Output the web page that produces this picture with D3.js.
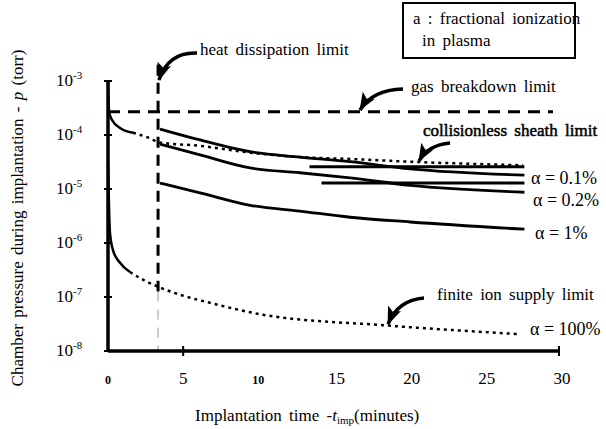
<!DOCTYPE html>
<html>
<head>
<meta charset="utf-8">
<script src="https://cdn.jsdelivr.net/npm/d3@7"></script>
<style>
  body { margin: 0; background: #fff; }
</style>
</head>
<body>
<svg id="chart" width="606" height="429"></svg>
<script>
// implantation time (minutes) and chamber pressure (torr)
var sheathTime = [0, 0.07, 0.27, 0.8, 1.66, 2.79, 3.4, 6.1, 9.5, 12.8, 16.1, 20.1, 27.6];
var sheathP    = [1.0e-3, 2.7e-4, 1.9e-4, 1.35e-4, 1.1e-4, 8.7e-5, 7.3e-5, 6.3e-5, 4.7e-5, 3.9e-5, 3.6e-5, 3.2e-5, 2.75e-5];

var alphaTime = [3.46, 6.12, 9.45, 12.77, 16.1, 20.1, 27.7];
var alpha01P  = [1.29e-4, 8.1e-5, 4.9e-5, 3.9e-5, 3.2e-5, 2.35e-5, 1.8e-5];
var alpha02P  = [6.8e-5, 4.3e-5, 2.45e-5, 2.0e-5, 1.6e-5, 1.17e-5, 8.7e-6];
var alpha1P   = [1.29e-5, 8.5e-6, 5.0e-6, 3.9e-6, 3.0e-6, 2.45e-6, 1.8e-6];

var ionTime = [0, 0.13, 0.33, 0.8, 1.46, 2.46, 3.33, 4.79, 6.79, 10.3, 18.3, 27.4];
var ionP    = [3.2e-5, 1.55e-6, 7.4e-7, 4.3e-7, 2.9e-7, 2.0e-7, 1.55e-7, 1.1e-7, 7.8e-8, 4.7e-8, 3.0e-8, 2.05e-8];

// short flat segments near the alpha = 0.1% / 0.2% curves
var flatTime = [[13.4, 27.7], [14.2, 27.7]];
var flatP    = [2.57e-5, 1.29e-5];

var gasBreakdownP = 2.7e-4;
var gasTime = [0, 29.6];
var heatTime = 3.33;
var heatP = [2.0e-3, 1.26e-7, 1.0e-8];

var xTicks = [0, 5, 10, 15, 20, 25, 30];
var yTicks = [1e-3, 1e-4, 1e-5, 1e-6, 1e-7, 1e-8];

var serif = '"Liberation Serif", "Times New Roman", serif';
var svg = d3.select('#chart');
var margin = {left: 108, top: 81, right: 47, bottom: 78};
var width = 606 - margin.left - margin.right,
    height = 429 - margin.top - margin.bottom;

var x = d3.scaleLinear().domain([0, 30]).range([margin.left, margin.left + width]);
var y = d3.scaleLog().domain([1e-8, 1e-3]).range([margin.top + height, margin.top]);

function pts(ts, ps) {
    return ts.map(function(t, i) { return [t, ps[i]]; });
}
// text helper so every label gets the serif face
function label(px, py, size) {
    return svg.append('text')
        .attr('x', px).attr('y', py)
        .style('font-family', serif)
        .style('font-size', size + 'px');
}
var line = d3.line()
    .x(function(d) { return x(d[0]); })
    .y(function(d) { return y(d[1]); })
    .curve(d3.curveMonotoneX);
var straight = d3.line()
    .x(function(d) { return x(d[0]); })
    .y(function(d) { return y(d[1]); });

// arrow head marker
svg.append('defs').append('marker')
    .attr('id', 'head')
    .attr('markerUnits', 'userSpaceOnUse')
    .attr('markerWidth', 20).attr('markerHeight', 16)
    .attr('refX', 17).attr('refY', 7)
    .attr('orient', 'auto')
  .append('path')
    .attr('d', 'M0,0 L18,7 L0,14 L4,7 Z')
    .attr('fill', '#000');

// gas breakdown limit
svg.append('path')
    .attr('d', straight([[gasTime[0], gasBreakdownP], [gasTime[1], gasBreakdownP]]))
    .attr('fill', 'none').attr('stroke', '#000')
    .attr('stroke-width', 3).attr('stroke-dasharray', '12,8');

// heat dissipation limit
svg.append('path')
    .attr('d', straight([[heatTime, heatP[0]], [heatTime, heatP[1]]]))
    .attr('fill', 'none').attr('stroke', '#000')
    .attr('stroke-width', 3).attr('stroke-dasharray', '11,7');
svg.append('path')
    .attr('d', straight([[heatTime, heatP[1]], [heatTime, heatP[2]]]))
    .attr('fill', 'none').attr('stroke', '#999')
    .attr('stroke-width', 1).attr('stroke-dasharray', '10,8');

// collisionless sheath limit (solid at first, dotted after)
var sheath = pts(sheathTime, sheathP);
svg.append('path')
    .attr('d', line(sheath.filter(function(d) { return d[0] <= 1.7; })))
    .attr('fill', 'none').attr('stroke', '#000').attr('stroke-width', 2.5);
svg.append('path')
    .attr('d', line(sheath.filter(function(d) { return d[0] >= 1.66; })))
    .attr('fill', 'none').attr('stroke', '#000')
    .attr('stroke-width', 2.5).attr('stroke-dasharray', '3,4');

// alpha curves
[alpha01P, alpha02P, alpha1P].forEach(function(ps) {
    svg.append('path')
        .attr('d', line(pts(alphaTime, ps)))
        .attr('fill', 'none').attr('stroke', '#000').attr('stroke-width', 2.8);
});
flatP.forEach(function(p, i) {
    svg.append('path')
        .attr('d', straight([[flatTime[i][0], p], [flatTime[i][1], p]]))
        .attr('fill', 'none').attr('stroke', '#000').attr('stroke-width', 3);
});

// finite ion supply limit (alpha = 100%)
var ion = pts(ionTime, ionP);
svg.append('path')
    .attr('d', line(ion.filter(function(d) { return d[0] <= 1.5; })))
    .attr('fill', 'none').attr('stroke', '#000').attr('stroke-width', 2.5);
svg.append('path')
    .attr('d', line(ion.filter(function(d) { return d[0] >= 1.46; })))
    .attr('fill', 'none').attr('stroke', '#000')
    .attr('stroke-width', 2.5).attr('stroke-dasharray', '3,4');

// axes
var axes = svg.append('g').attr('stroke', '#000');
axes.append('line')
    .attr('x1', x(0)).attr('x2', x(0))
    .attr('y1', y(1e-3)).attr('y2', y(1e-8))
    .attr('stroke-width', 3.5);
axes.append('line')
    .attr('x1', x(0)).attr('x2', x(30))
    .attr('y1', y(1e-8)).attr('y2', y(1e-8))
    .attr('stroke-width', 3.5);
yTicks.forEach(function(v) {
    axes.append('line')
        .attr('x1', x(0) - 4).attr('x2', x(0) + 4)
        .attr('y1', y(v)).attr('y2', y(v))
        .attr('stroke-width', 2);
});
[5, 30].forEach(function(v) {
    axes.append('line')
        .attr('x1', x(v)).attr('x2', x(v))
        .attr('y1', y(1e-8) - 5).attr('y2', y(1e-8) + 5)
        .attr('stroke-width', 2);
});

// y tick labels 10^n
yTicks.forEach(function(v) {
    var t = label(56, y(v) + 5, 17);
    t.append('tspan').text('10');
    t.append('tspan').attr('dy', -7).style('font-size', '11px')
        .text(String(Math.round(Math.log10(v))));
});

// x tick labels
xTicks.forEach(function(v) {
    var bold = (v === 0 || v === 10);
    label(x(v) + (v >= 15 ? 3 : 0), 384, bold ? 12 : 17)
        .attr('text-anchor', 'middle')
        .style('font-weight', bold ? 'bold' : 'normal')
        .text(v);
});

// axis titles
var xt = label(195, 421, 17).style('word-spacing', '3px');
xt.append('tspan').text('Implantation time -');
xt.append('tspan').style('font-style', 'italic').text('t');
xt.append('tspan').attr('dy', 3).style('font-size', '11px').text('imp');
xt.append('tspan').attr('dy', -3).text('(minutes)');

var yt = label(0, 0, 17)
    .attr('transform', 'translate(23,218) rotate(-90)')
    .attr('text-anchor', 'middle')
    .style('word-spacing', '2px');
yt.append('tspan').text('Chamber pressure during implantation - ');
yt.append('tspan').style('font-style', 'italic').text('p');
yt.append('tspan').text(' (torr)');

// legend box
svg.append('rect')
    .attr('x', 403).attr('y', 3).attr('width', 172).attr('height', 55)
    .attr('fill', 'none').attr('stroke', '#000').attr('stroke-width', 2);
label(413, 24, 17).style('word-spacing', '3px').text('a : fractional ionization');
label(422, 46, 17).style('word-spacing', '3px').text('in plasma');

// annotations with curved arrows
var notes = [
    {text: 'heat dissipation limit', x: 200, y: 55, arrow: [[197, 53], [168, 52], [159, 80]]},
    {text: 'gas breakdown limit', x: 411, y: 92, arrow: [[403, 89], [372, 90], [360, 110]]},
    {text: 'collisionless sheath limit', x: 423, y: 136, bold: true, arrow: [[450, 143], [428, 145], [419, 161]]},
    {text: 'finite ion supply limit', x: 437, y: 300, arrow: [[424, 298], [398, 300], [388, 324]]}
];
notes.forEach(function(n) {
    var t = label(n.x, n.y, 17).style('word-spacing', '3px').text(n.text);
    if (n.bold) t.attr('stroke', '#000').attr('stroke-width', 0.5);
    var a = n.arrow;
    svg.append('path')
        .attr('d', 'M' + a[0] + 'Q' + a[1] + ' ' + a[2])
        .attr('fill', 'none').attr('stroke', '#000').attr('stroke-width', 3.5)
        .attr('marker-end', 'url(#head)');
});

// alpha labels
var alphaLabels = [
    {text: 'α = 0.1%', x: 531, y: 184},
    {text: 'α = 0.2%', x: 533, y: 206},
    {text: 'α = 1%', x: 535, y: 239},
    {text: 'α = 100%', x: 530, y: 335}
];
alphaLabels.forEach(function(l) {
    label(l.x, l.y, 18).text(l.text);
});
</script>
</body>
</html>
